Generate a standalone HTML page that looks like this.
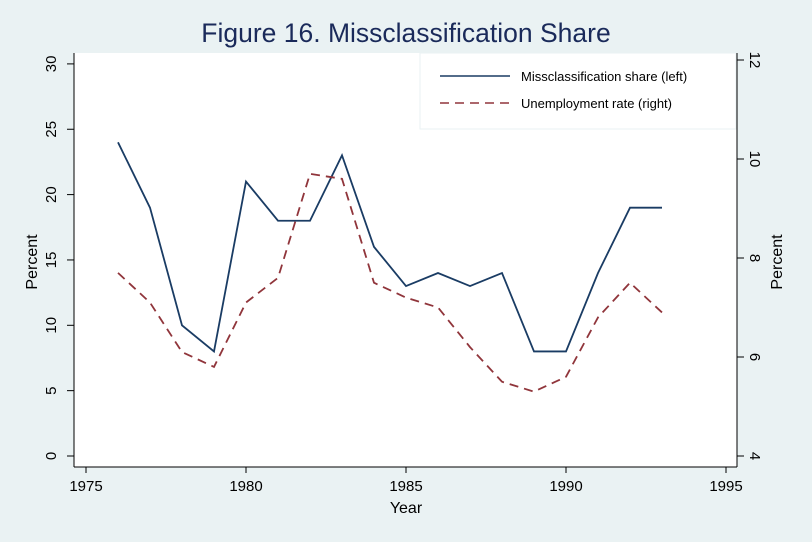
<!DOCTYPE html>
<html><head><meta charset="utf-8"><style>
body{margin:0;background:#eaf2f3;}
svg{display:block;font-family:"Liberation Sans",sans-serif;}
</style></head><body>
<svg width="812" height="542" xmlns="http://www.w3.org/2000/svg">
<rect x="0" y="0" width="812" height="542" fill="#eaf2f3"/>
<text x="406" y="42" font-size="26.5" text-anchor="middle" fill="#1a2a5a">Figure 16.  Missclassification Share</text>
<rect x="74" y="53" width="663" height="414" fill="#ffffff"/>
<rect x="420" y="53" width="316" height="76" fill="#ffffff" stroke="#eaf2f3"/>
<g id="axes"></g>
<g id="series"></g>
<g>
<line x1="440" y1="76" x2="510" y2="76" stroke="#1a3c64" stroke-width="1.6"/>
<text x="521" y="81" font-size="13">Missclassification share (left)</text>
<line x1="440" y1="103" x2="510" y2="103" stroke="#90353b" stroke-width="1.6" stroke-dasharray="9,6"/>
<text x="521" y="108" font-size="13">Unemployment rate (right)</text>
</g>
<text x="406" y="513" font-size="16" text-anchor="middle">Year</text>
<text transform="translate(37,262) rotate(-90)" font-size="16" text-anchor="middle">Percent</text>
<text transform="translate(782,262) rotate(-90)" font-size="16" text-anchor="middle">Percent</text>
</svg>
<script>
const years=[1976,1977,1978,1979,1980,1981,1982,1983,1984,1985,1986,1987,1988,1989,1990,1991,1992,1993];
const missShare=[24,19,10,8,21,18,18,23,16,13,14,13,14,8,8,14,19,19];
const unempRate=[7.7,7.1,6.1,5.8,7.1,7.6,9.7,9.6,7.5,7.2,7.0,6.2,5.5,5.3,5.6,6.8,7.5,6.9];
const xTicks=[1975,1980,1985,1990,1995];
const yLeftTicks=[0,5,10,15,20,25,30];
const yRightTicks=[4,6,8,10,12];
const NS="http://www.w3.org/2000/svg";
const X=v=>86+(v-1975)*32;
const YL=v=>456-v*13.07;
const YR=v=>456-(v-4)*49.5;
const axes=document.getElementById('axes'),series=document.getElementById('series');
function mk(t,a,p){const e=document.createElementNS(NS,t);for(const k in a)e.setAttribute(k,a[k]);p.appendChild(e);return e;}
let l=mk('line',{x1:74,y1:53,x2:74,y2:467,stroke:'#000'},axes);


l=mk('line',{x1:737,y1:53,x2:737,y2:467,stroke:'#000'},axes);


l=mk('line',{x1:74,y1:467,x2:737,y2:467,stroke:'#000'},axes);


xTicks.forEach(v=>{const x=X(v);
 const t=mk('line',{x1:x,y1:467,x2:x,y2:473,stroke:'#000'},axes);
 
 
 const tx=mk('text',{x:x,y:491,'font-size':15,'text-anchor':'middle'},axes);tx.textContent=v;
 
 });
yLeftTicks.forEach(v=>{const y=YL(v);
 const t=mk('line',{x1:67,y1:y,x2:74,y2:y,stroke:'#000'},axes);
 
 
 const tx=mk('text',{transform:`translate(56,${y}) rotate(-90)`,'font-size':15,'text-anchor':'middle'},axes);tx.textContent=v;
 
 });
yRightTicks.forEach(v=>{const y=YR(v);
 const t=mk('line',{x1:737,y1:y,x2:744,y2:y,stroke:'#000'},axes);
 
 
 const tx=mk('text',{transform:`translate(750,${y}) rotate(90)`,'font-size':15,'text-anchor':'middle'},axes);tx.textContent=v;
 
 });
let p=mk('polyline',{points:years.map((y,i)=>X(y)+','+YL(missShare[i])).join(' '),fill:'none',stroke:'#1a3c64','stroke-width':1.8},series);


p=mk('polyline',{points:years.map((y,i)=>X(y)+','+YR(unempRate[i])).join(' '),fill:'none',stroke:'#90353b','stroke-width':1.8,'stroke-dasharray':'9,6'},series);


</script>
</body></html>
